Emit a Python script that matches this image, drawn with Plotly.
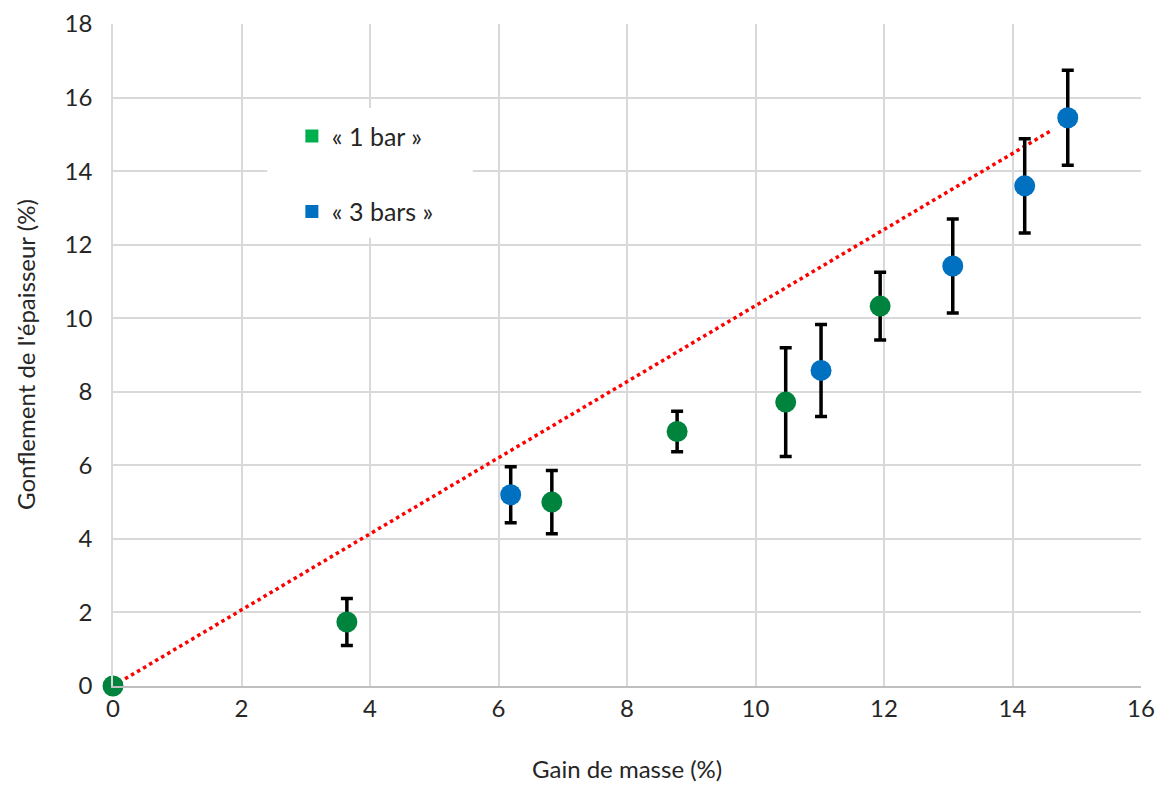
import plotly.graph_objects as go

# Data
x_1bar = [0.0, 3.64, 6.83, 8.78, 10.47, 11.94]
y_1bar = [0.0, 1.74, 5.00, 6.92, 7.72, 10.33]
e_1bar = [0.0, 0.64, 0.86, 0.55, 1.48, 0.92]

x_3bars = [6.19, 11.02, 13.07, 14.19, 14.86]
y_3bars = [5.20, 8.58, 11.42, 13.60, 15.45]
e_3bars = [0.76, 1.25, 1.28, 1.28, 1.29]

trend_x = [0.0, 14.6]
trend_y = [0.0, 15.1]

font_family = "Lato, 'Open Sans', sans-serif"
text_col = "#262626"
green_pt = "#00843D"
green_leg = "#00B050"
blue = "#0070C0"

fig = go.Figure()

fig.add_trace(go.Scatter(
    x=trend_x, y=trend_y, mode="lines",
    line=dict(color="#FF0000", width=3.5, dash="dot"),
    showlegend=False, hoverinfo="skip", cliponaxis=False,
))

fig.add_trace(go.Scatter(
    x=x_1bar, y=y_1bar, mode="markers",
    marker=dict(color=green_pt, size=21),
    error_y=dict(type="data", array=e_1bar, color="black", thickness=3.5, width=6),
    showlegend=False, cliponaxis=False,
))

fig.add_trace(go.Scatter(
    x=x_3bars, y=y_3bars, mode="markers",
    marker=dict(color=blue, size=21),
    error_y=dict(type="data", array=e_3bars, color="black", thickness=3.5, width=6),
    showlegend=False, cliponaxis=False,
))

# Legend entries
fig.add_trace(go.Scatter(
    x=[None], y=[None], mode="markers", name="\u00ab 1 bar \u00bb",
    marker=dict(color=green_leg, size=13, symbol="square"),
    legendgroup="a",
))
fig.add_trace(go.Scatter(
    x=[None], y=[None], mode="markers", name="\u00ab 3 bars \u00bb",
    marker=dict(color=blue, size=13, symbol="square"),
    legendgroup="b",
))

# white legend backdrop hiding the grid
fig.add_shape(type="rect", xref="paper", yref="paper",
              x0=0.15, x1=0.35, y0=0.677, y1=0.873,
              fillcolor="white", line=dict(width=0), layer="above")

fig.add_annotation(text="Gain de masse (%)", xref="paper", yref="paper",
                   x=0.5, y=0, xanchor="center", yanchor="middle", yshift=-82,
                   showarrow=False, font=dict(size=24, color=text_col))
fig.add_annotation(text="Gonflement de l'\u00e9paisseur (%)", xref="paper", yref="paper",
                   x=0, y=0.5, xanchor="center", yanchor="middle", xshift=-88,
                   textangle=-90, showarrow=False, font=dict(size=24, color=text_col))

fig.update_layout(
    width=1156, height=776,
    paper_bgcolor="white", plot_bgcolor="white",
    margin=dict(l=105, r=23, t=16, b=98, autoexpand=False),
    font=dict(family=font_family, size=24, color=text_col),
    legend=dict(
        x=0.174, y=0.865, xanchor="left", yanchor="top",
        bgcolor="rgba(0,0,0,0)", borderwidth=0,
        font=dict(size=25, color=text_col),
        tracegroupgap=40, traceorder="grouped",
        itemwidth=30,
    ),
    xaxis=dict(
        range=[0, 16], dtick=2, tick0=0, automargin=False,
        showgrid=True, gridcolor="#D9D9D9", gridwidth=1.5,
        zeroline=False, showline=True, linecolor="#BFBFBF", linewidth=1.5,
        ticks="", tickfont=dict(size=24),
    ),
    yaxis=dict(
        range=[0, 18], dtick=2, tick0=0, automargin=False,
        showgrid=True, gridcolor="#D9D9D9", gridwidth=1.5,
        zeroline=False, showline=True, linecolor="#D9D9D9", linewidth=1.5,
        ticks="", tickfont=dict(size=24), ticklabelstandoff=14,
    ),
)

fig.write_html("out.html")
